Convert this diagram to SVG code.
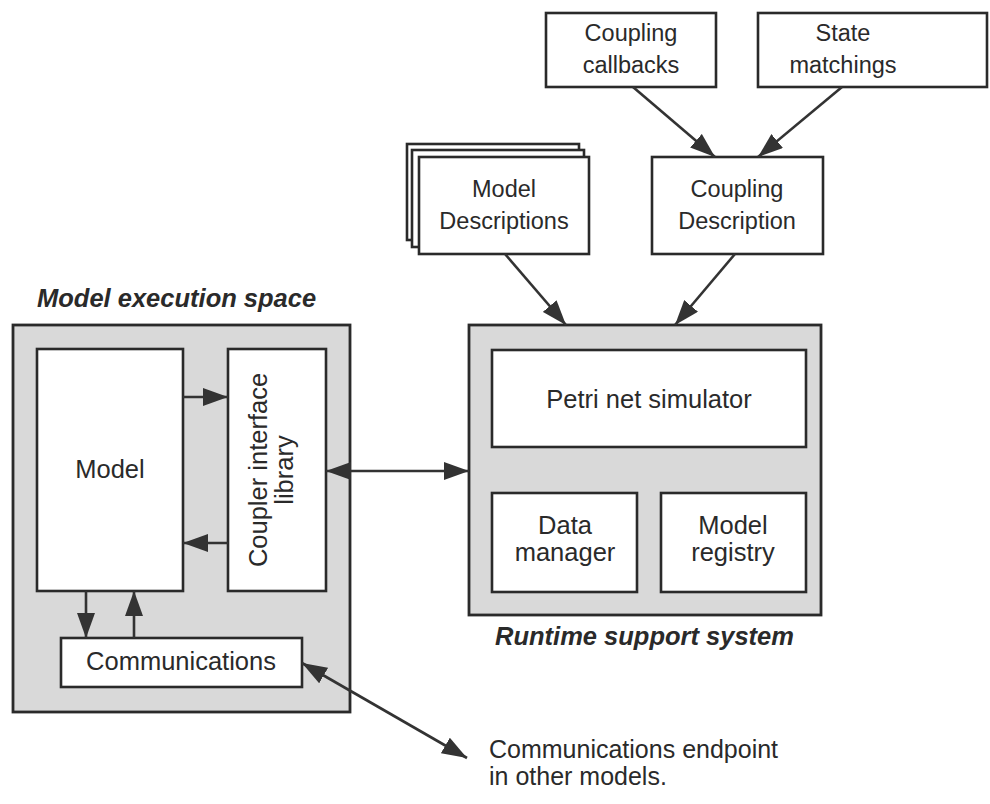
<svg xmlns="http://www.w3.org/2000/svg" width="990" height="804" viewBox="0 0 990 804">
<defs>
<marker id="ah" markerUnits="userSpaceOnUse" markerWidth="25" markerHeight="18" refX="25" refY="9" orient="auto-start-reverse">
<path d="M0,0 L25,9 L0,18 z" fill="#333"/>
</marker>
</defs>
<style>
.box{fill:#fff;stroke:#2a2a2a;stroke-width:2.6}
.outer{fill:#d9d9d9;stroke:#2a2a2a;stroke-width:2.8}
.t{font-family:"Liberation Sans",Arial,sans-serif;font-size:25.5px;fill:#2a2a2a;text-anchor:middle}
.ts{font-family:"Liberation Sans",Arial,sans-serif;font-size:23.5px;fill:#2a2a2a;text-anchor:middle}
.lbl{font-family:"Liberation Sans",Arial,sans-serif;font-size:25.5px;font-weight:bold;font-style:italic;fill:#2a2a2a}
.plain{font-family:"Liberation Sans",Arial,sans-serif;font-size:25px;fill:#2a2a2a}
.c{stroke:#333;stroke-width:2.6;fill:none;marker-end:url(#ah)}
.c2{stroke:#333;stroke-width:2.6;fill:none;marker-end:url(#ah);marker-start:url(#ah)}
</style>
<rect width="990" height="804" fill="#fff"/>

<g id="model-execution-space">
<text class="lbl" x="37" y="307">Model execution space</text>
<rect class="outer" x="13" y="325" width="337" height="387"/>
</g>
<g id="runtime-support-system">
<rect class="outer" x="469" y="325" width="352" height="290"/>
<text class="lbl" x="495" y="645">Runtime support system</text>
</g>

<g id="coupling-callbacks">
<rect class="box" x="546" y="13" width="170" height="74"/>
<text class="ts" x="631" y="41">Coupling</text>
<text class="ts" x="631" y="73">callbacks</text>
</g>
<g id="state-matchings">
<rect class="box" x="758" y="13" width="229" height="74"/>
<text class="ts" x="843" y="41">State</text>
<text class="ts" x="843" y="73">matchings</text>
</g>
<g id="model-descriptions">
<rect class="box" x="407" y="144" width="172" height="96"/>
<rect class="box" x="412" y="150" width="172" height="97"/>
<rect class="box" x="419" y="157" width="170" height="97"/>
<text class="ts" x="504" y="197">Model</text>
<text class="ts" x="504" y="229">Descriptions</text>
</g>
<g id="coupling-description">
<rect class="box" x="652" y="157" width="171" height="97"/>
<text class="ts" x="737" y="197">Coupling</text>
<text class="ts" x="737" y="229">Description</text>
</g>

<g id="model">
<rect class="box" x="37" y="349" width="146" height="242"/>
<text class="t" x="110" y="478">Model</text>
</g>
<g id="coupler-interface-library">
<rect class="box" x="228" y="349" width="98" height="242"/>
<text class="t" transform="translate(267,470) rotate(-90)">Coupler interface</text>
<text class="t" transform="translate(293,470) rotate(-90)">library</text>
</g>
<g id="communications">
<rect class="box" x="61" y="638" width="241" height="49"/>
<text class="t" x="181" y="670">Communications</text>
</g>
<g id="petri-net-simulator">
<rect class="box" x="492" y="350" width="314" height="97"/>
<text class="t" x="649" y="408">Petri net simulator</text>
</g>
<g id="data-manager">
<rect class="box" x="492" y="493" width="145" height="99"/>
<text class="t" x="565" y="534">Data</text>
<text class="t" x="565" y="561">manager</text>
</g>
<g id="model-registry">
<rect class="box" x="661" y="493" width="145" height="99"/>
<text class="t" x="733" y="534">Model</text>
<text class="t" x="733" y="561">registry</text>
</g>
<g id="endpoint">
<text class="plain" x="489" y="758">Communications endpoint</text>
<text class="plain" x="489" y="785">in other models.</text>
</g>

<g id="connectors">
<line class="c" x1="633" y1="87" x2="715" y2="157"/>
<line class="c" x1="842" y1="87" x2="758" y2="157"/>
<line class="c" x1="505" y1="254" x2="566" y2="325"/>
<line class="c" x1="735" y1="254" x2="675" y2="325"/>
<line class="c" x1="183" y1="397" x2="228" y2="397"/>
<line class="c" x1="228" y1="543" x2="183" y2="543"/>
<line class="c2" x1="326" y1="471" x2="469" y2="471"/>
<line class="c" x1="86" y1="591" x2="86" y2="638"/>
<line class="c" x1="134" y1="638" x2="134" y2="591"/>
<line class="c2" x1="302" y1="663" x2="467" y2="758"/>
</g>
</svg>
